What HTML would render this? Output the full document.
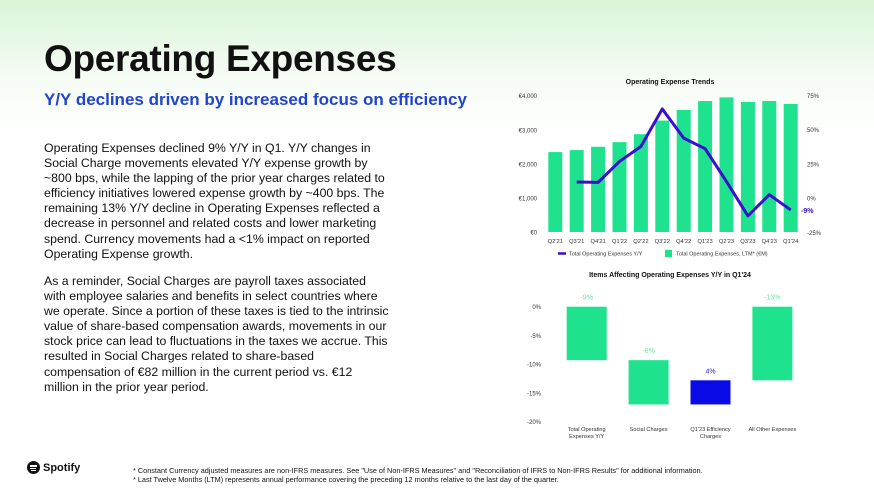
<!DOCTYPE html>
<html><head><meta charset="utf-8"><style>
body{margin:0;width:874px;height:491px;overflow:hidden;font-family:"Liberation Sans",sans-serif;background:linear-gradient(#d9f5d6 0px,#f3fbf2 70px,#ffffff 130px);position:relative}
h1{position:absolute;left:44px;top:38px;margin:0;font-size:37px;font-weight:bold;color:#111;letter-spacing:-0.3px}
h2{position:absolute;left:44px;top:90px;margin:0;font-size:17px;font-weight:bold;color:#2244cc}
.p{position:absolute;left:44px;width:430px;font-size:12.3px;line-height:15.1px;color:#111;white-space:nowrap}
.fn{position:absolute;left:133px;font-size:7.3px;color:#111}
</style></head><body>
<h1>Operating Expenses</h1>
<h2>Y/Y declines driven by increased focus on efficiency</h2>
<div class="p" style="top:141px">Operating Expenses declined 9% Y/Y in Q1. Y/Y changes in<br>Social Charge movements elevated Y/Y expense growth by<br>~800 bps, while the lapping of the prior year charges related to<br>efficiency initiatives lowered expense growth by ~400 bps. The<br>remaining 13% Y/Y decline in Operating Expenses reflected a<br>decrease in personnel and related costs and lower marketing<br>spend. Currency movements had a &lt;1% impact on reported<br>Operating Expense growth.</div>
<div class="p" style="top:274px">As a reminder, Social Charges are payroll taxes associated<br>with employee salaries and benefits in select countries where<br>we operate. Since a portion of these taxes is tied to the intrinsic<br>value of share-based compensation awards, movements in our<br>stock price can lead to fluctuations in the taxes we accrue. This<br>resulted in Social Charges related to share-based<br>compensation of €82 million in the current period vs. €12<br>million in the prior year period.</div>
<div style="position:absolute;left:27px;top:461px;display:flex;align-items:center;gap:3px">
<div style="width:13px;height:13px;border-radius:50%;background:#111;position:relative"><div style="position:absolute;left:3px;top:4px;width:7px;height:1.5px;background:#fff"></div><div style="position:absolute;left:3px;top:6.5px;width:6px;height:1.3px;background:#fff"></div><div style="position:absolute;left:3.5px;top:8.8px;width:5px;height:1.2px;background:#fff"></div></div>
<span style="font-weight:bold;font-size:11px;color:#111">Spotify</span></div>
<div class="fn" style="top:466px">* Constant Currency adjusted measures are non-IFRS measures. See "Use of Non-IFRS Measures" and "Reconciliation of IFRS to Non-IFRS Results" for additional information.</div>
<div class="fn" style="top:475px">* Last Twelve Months (LTM) represents annual performance covering the preceding 12 months relative to the last day of the quarter.</div>
<svg id="c" width="874" height="491" style="position:absolute;left:0;top:0" font-family="Liberation Sans, sans-serif"></svg>
<script>
const cats=["Q2'21","Q3'21","Q4'21","Q1'22","Q2'22","Q3'22","Q4'22","Q1'23","Q2'23","Q3'23","Q4'23","Q1'24"];
const opexLTM=[2345,2404,2501,2637,2871,3270,3581,3844,3951,3815,3844,3757];
const opexYY=[null,11.7,11.4,26.7,37.6,65,43.7,36,12,-13,2.4,-8.7];
const leftTicks=[0,1000,2000,3000,4000];
const leftTickLabels=["€0","€1,000","€2,000","€3,000","€4,000"];
const rightTicks=[-25,0,25,50,75];
const wfCats=["Total Operating|Expenses Y/Y","Social Charges","Q1'23 Efficiency|Charges","All Other Expenses"];
const wfStart=[0,-9.3,-17,0];
const wfEnd=[-9.3,-17,-12.8,-12.8];
const wfLabels=["-9%","-8%","4%","-13%"];
const wfTicks=[0,-5,-10,-15,-20];
const svg=document.getElementById('c');const NS='http://www.w3.org/2000/svg';
function el(t,a,txt){const e=document.createElementNS(NS,t);for(const k in a)e.setAttribute(k,a[k]);if(txt!=null)e.textContent=txt;svg.appendChild(e);return e;}
const x1=i=>555.3+i*21.4, yL=v=>232-v*(136.3/4000), yR=v=>198-v*(137/100);
let t=el('text',{x:670,y:84,'font-size':7,'font-weight':'bold','text-anchor':'middle',fill:'#111'},'Operating Expense Trends');

leftTicks.forEach((v,i)=>{const e=el('text',{x:537,y:yL(v)+2.5,'font-size':6,'text-anchor':'end',fill:'#333'},leftTickLabels[i]);
});
rightTicks.forEach(v=>{const e=el('text',{x:807,y:yR(v)+2.5,'font-size':6,fill:'#333'},v+'%');
});
opexLTM.forEach((v,i)=>{const r=el('rect',{x:x1(i)-7,y:yL(v),width:14,height:yL(0)-yL(v),fill:'#1ee28e'});

const e=el('text',{x:x1(i),y:243,'font-size':5.8,'text-anchor':'middle',fill:'#333'},cats[i]);
});
let pts=[];opexYY.forEach((v,i)=>{if(v!=null)pts.push(x1(i)+','+yR(v));});
const ln=el('polyline',{points:pts.join(' '),fill:'none',stroke:'#3a0fd0','stroke-width':3,'stroke-linejoin':'round'});

const last=opexYY[opexYY.length-1];
t=el('text',{x:801,y:yR(last)+3,'font-size':7,'font-weight':'bold',fill:'#3a0fd0'},Math.round(last)+'%');

let l=el('line',{x1:558,y1:253.5,x2:566,y2:253.5,stroke:'#3a0fd0','stroke-width':2.5});

t=el('text',{x:569,y:255.5,'font-size':5.5,fill:'#333'},'Total Operating Expenses Y/Y');

l=el('rect',{x:665,y:250,width:7,height:7,fill:'#1ee28e'});

t=el('text',{x:676,y:255.5,'font-size':5.5,fill:'#333'},'Total Operating Expenses, LTM* (€M)');

const x2=i=>586.7+i*61.9, y2=v=>306.7-v*(115/20);
t=el('text',{x:670,y:277,'font-size':7,'font-weight':'bold','text-anchor':'middle',fill:'#111'},"Items Affecting Operating Expenses Y/Y in Q1'24");

wfTicks.forEach(v=>{const e=el('text',{x:541,y:y2(v)+2.5,'font-size':6,'text-anchor':'end',fill:'#333'},v+'%');
});
wfCats.forEach((c,i)=>{const a=y2(wfStart[i]),b=y2(wfEnd[i]);const col=i==2?'#0a0ae6':'#1ee28e';
const r=el('rect',{x:x2(i)-20,y:Math.min(a,b),width:40,height:Math.abs(b-a),fill:col});

const e=el('text',{x:x2(i),y:Math.min(a,b)-7,'font-size':7,'text-anchor':'middle',fill:i==2?'#2a2acc':'#6fe0a8'},wfLabels[i]);

c.split('|').forEach((s,j)=>{const q=el('text',{x:x2(i),y:431+j*7,'font-size':5.6,'text-anchor':'middle',fill:'#333'},s);
});});
</script>
</body></html>
